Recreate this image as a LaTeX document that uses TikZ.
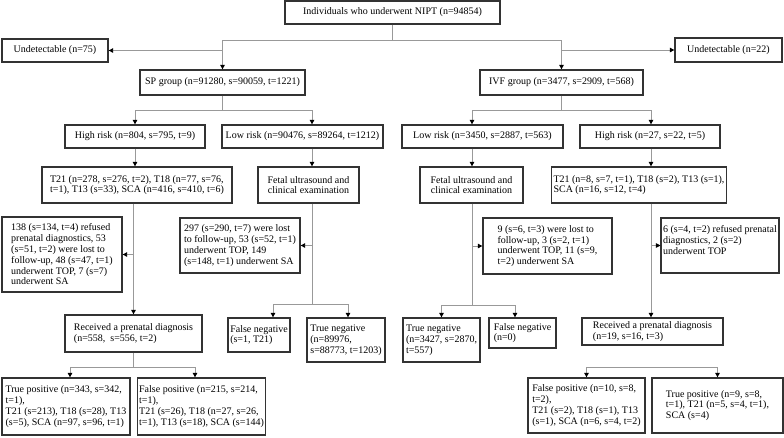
\documentclass[tikz,border=0pt]{standalone}
\usepackage{fontspec}
\setmainfont{Liberation Serif}
\usetikzlibrary{arrows.meta,positioning}

\begin{document}
\begin{tikzpicture}[x=1pt,y=-1pt,
  box/.style={draw=black!80, line width=1.3pt, align=left, inner sep=2pt,
    font=\fontsize{10}{10.8}\selectfont},
  size/.style 2 args={minimum width=#1pt, minimum height=#2pt},
  line/.style={draw=black!40, line width=0.9pt},
  arr/.style={line, -{Triangle[color=black,length=4.5pt,width=4.5pt]}}]
\useasboundingbox (0,0) rectangle (784,437);

% Top
\node[box, size={215}{23}] (nipt) at (392.5,12.5) {Individuals who underwent NIPT (n=94854)};
\node[box, size={106}{23}] (undl) at (55,50.5) {Undetectable (n=75)};
\node[box, size={107}{24}] (undr) at (728.5,50) {Undetectable (n=22)};
\node[box, size={165}{25}] (sp) at (222.5,82.5) {SP group (n=91280, s=90059, t=1221)};
\node[box, size={163}{25}] (ivf) at (561.5,82.5) {IVF group (n=3477, s=2909, t=568)};

% Risk groups
\node[box, size={140}{23}] (sphigh) at (135,136.5) {High risk (n=804, s=795, t=9)};
\node[box, size={161}{23}] (splow) at (302.5,136.5) {Low risk (n=90476, s=89264, t=1212)};
\node[box, size={161}{23}] (ivflow) at (482.5,136.5) {Low risk (n=3450, s=2887, t=563)};
\node[box, size={140}{23}] (ivfhigh) at (650,136.5) {High risk (n=27, s=22, t=5)};

% SP branch
\node[box, size={190}{36}] (spchr) at (137,185) {T21 (n=278, s=276, t=2), T18 (n=77, s=76,\\t=1), T13 (s=33), SCA (n=416, s=410, t=6)};
\node[box, size={101}{36}, align=center] (spus) at (308.5,185) {Fetal ultrasound and\\clinical examination};
\node[box, size={120}{75}] (spout) at (62,254.5) {138 (s=134, t=4) refused\\prenatal diagnostics, 53\\(s=51, t=2) were lost to\\follow-up, 48 (s=47, t=1)\\underwent TOP, 7 (s=7)\\underwent SA};
\node[box, size={120}{55}] (spnote) at (240,245.5) {297 (s=290, t=7) were lost\\to follow-up, 53 (s=52, t=1)\\underwent TOP, 149\\(s=148, t=1) underwent SA};
\node[box, size={137}{37}] (sprec) at (133.5,333.5) {Received a prenatal diagnosis\\(n=558,\ \ s=556, t=2)};
\node[box, size={62}{34}] (spfn) at (259,335) {False negative\\(s=1, T21)};
\node[box, size={78}{44}] (sptn) at (346,340) {True negative\\(n=89976,\\s=88773, t=1203)};
\node[box, size={128}{57}] (sptp) at (66,406.5) {True positive (n=343, s=342,\\t=1),\\T21 (s=213), T18 (s=28), T13\\(s=5), SCA (n=97, s=96, t=1)};
\node[box, size={127}{57}] (spfp) at (201.5,406.5) {False positive (n=215, s=214,\\t=1),\\T21 (s=26), T18 (n=27, s=26,\\t=1), T13 (s=18), SCA (s=144)};

% IVF branch
\node[box, size={103}{36}, align=center] (ivfus) at (471.5,185) {Fetal ultrasound and\\clinical examination};
\node[box, size={162}{36}] (ivfchr) at (639,185) {T21 (n=8, s=7, t=1), T18 (s=2), T13 (s=1),\\SCA (n=16, s=12, t=4)};
\node[box, size={129}{56}] (ivfnote) at (547.5,246) {9 (s=6, t=3) were lost to\\follow-up, 3 (s=2, t=1)\\underwent TOP, 11 (s=9,\\t=2) underwent SA};
\node[box, size={116}{55}] (ivfout) at (720,245.5) {6 (s=4, t=2) refused prenatal\\diagnostics, 2 (s=2)\\underwent TOP\\ \mbox{}};
\node[box, size={77}{44}] (ivftn) at (441.5,340) {True negative\\(n=3427, s=2870,\\t=557)};
\node[box, size={67}{30}] (ivffn) at (522.5,333) {False negative\\(n=0)};
\node[box, size={141}{27}] (ivfrec) at (652.5,331.5) {Received a prenatal diagnosis\\(n=19, s=16, t=3)};
\node[box, size={117}{55}] (ivffp) at (586.5,405.5) {False positive (n=10, s=8,\\t=2),\\T21 (s=2), T18 (s=1), T13\\(s=1), SCA (n=6, s=4, t=2)};
\node[box, size={131}{55}] (ivftp) at (717.5,405.5) {True positive (n=9, s=8,\\t=1), T21 (n=5, s=4, t=1),\\SCA (s=4)};

% Forks
\coordinate (fork) at (392.5,40);
\coordinate (spfork) at (222.5,110);
\coordinate (ivffork) at (561.5,110);
\coordinate (ssfork) at (312,304);
\coordinate (isfork) at (472,305);
\coordinate (srfork) at (133.5,367);
\coordinate (irfork) at (651,367);

% Connectors, top
\draw[line] (nipt.south) -- (fork);
\draw[arr] (fork) -| (sp.north);
\draw[arr] (fork) -| (ivf.north);
\draw[arr] (sp.north |- undl) -- (undl.east);
\draw[arr] (ivf.north |- undr) -- (undr.west);
\draw[line] (sp.south) -- (spfork);
\draw[arr] (spfork) -| (sphigh.north);
\draw[arr] (spfork) -| (splow.north -| ssfork);
\draw[line] (ivf.south) -- (ivffork);
\draw[arr] (ivffork) -| (ivflow.north -| isfork);
\draw[arr] (ivffork) -| (ivfhigh.north -| irfork);

% Connectors, SP
\draw[arr] (sphigh.south) -- (sphigh.south |- spchr.north);
\draw[arr] (spchr.south -| sprec) -- (sprec.north);
\draw[arr] (spout.east -| sprec) -- (spout.east);
\draw[line] (sprec.south) -- (srfork);
\draw[arr] (srfork) -| (sptp.north -| 70,0);
\draw[arr] (srfork) -| (spfp.north -| 195,0);
\draw[arr] (splow.south -| ssfork) -- (spus.north -| ssfork);
\draw[line] (spus.south -| ssfork) -- (ssfork);
\draw[arr] (spnote.east -| ssfork) -- (spnote.east);
\draw[arr] (ssfork) -| (spfn.north -| 273,0);
\draw[arr] (ssfork) -| (sptn.north -| 348,0);

% Connectors, IVF
\draw[arr] (ivflow.south -| isfork) -- (ivfus.north -| isfork);
\draw[line] (ivfus.south -| isfork) -- (isfork);
\draw[arr] (ivfnote.west -| isfork) -- (ivfnote.west);
\draw[arr] (isfork) -| (ivftn.north);
\draw[arr] (isfork) -| (ivffn.north -| 515,0);
\draw[arr] (ivfhigh.south -| irfork) -- (ivfchr.north -| irfork);
\draw[arr] (ivfchr.south -| irfork) -- (ivfrec.north -| irfork);
\draw[arr] (ivfout.west -| irfork) -- (ivfout.west);
\draw[arr] (irfork) -| (ivffp.north);
\draw[arr] (irfork) -| (ivftp.north);
\end{tikzpicture}
\end{document}
